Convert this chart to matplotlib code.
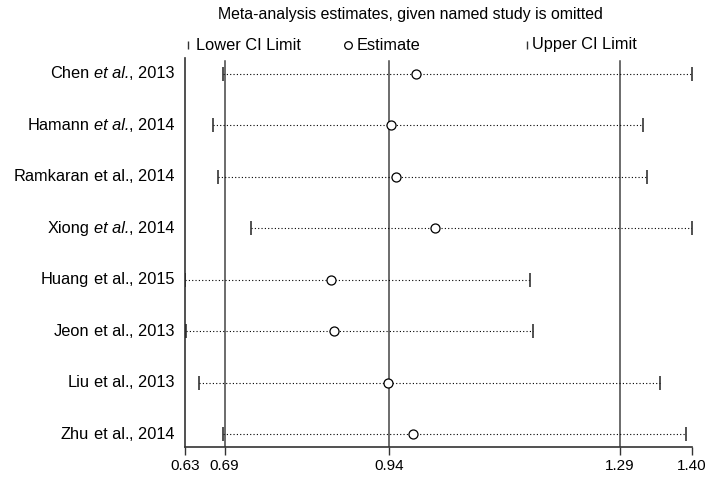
import matplotlib
matplotlib.use("Agg")
import matplotlib.pyplot as plt
from matplotlib.lines import Line2D

plt.rcParams['font.family'] = ['Liberation Sans', 'DejaVu Sans']

authors = ["Chen", "Hamann", "Ramkaran", "Xiong", "Huang", "Jeon", "Liu", "Zhu"]
etal_italic = [True, True, False, True, False, False, False, False]
years = ["2013", "2014", "2014", "2014", "2015", "2013", "2013", "2014"]
lower = [0.688, 0.673, 0.680, 0.730, 0.630, 0.631, 0.651, 0.688]
estimate = [0.981, 0.943, 0.950, 1.010, 0.852, 0.856, 0.938, 0.976]
upper = [1.400, 1.326, 1.332, 1.400, 1.154, 1.159, 1.351, 1.391]

ref_lines = [0.69, 0.94, 1.29]
xticks = [0.63, 0.69, 0.94, 1.29, 1.40]
xtick_labels = ["0.63", "0.69", "0.94", "1.29", "1.40"]

fs = 11.8

fig = plt.figure(figsize=(7.18, 4.8), dpi=100)
ax = fig.add_axes([185/718, 1-447/480, (692-185)/718, (447-58)/480])

ypos = list(range(1, len(authors)+1))

for x in ref_lines:
    ax.axvline(x, ymin=0, ymax=0.992, color='#444444', lw=1.1, zorder=1)

for y, lo, est, up in zip(ypos, lower, estimate, upper):
    ax.plot([lo, up], [y, y], color='black', ls=(0, (1, 2)), lw=0.8, zorder=2)
    ax.plot([lo, up], [y, y], ls='none', marker='|', ms=10, mew=1.1, color='#222222', zorder=3)
    ax.plot(est, y, 'o', ms=6.5, mfc='white', mec='black', mew=0.9, zorder=4)

ax.set_xlim(0.63, 1.40)
ax.set_ylim(8.25, 0.69)
ax.set_yticks([])
ax.set_xticks(xticks)
ax.set_xticklabels(xtick_labels, fontsize=11)
ax.tick_params(axis='x', direction='out', length=6, width=1, color='#333333', pad=3)
for s in ['top', 'right']:
    ax.spines[s].set_visible(False)
for s in ['left', 'bottom']:
    ax.spines[s].set_color('#333333')
    ax.spines[s].set_linewidth(1.2)

# study labels, built right to left so "et al." can be italic
trans = ax.get_yaxis_transform()
for y, name, ital, yr in zip(ypos, authors, etal_italic, years):
    t_year = ax.annotate(", " + yr, xy=(0, y), xycoords=trans, xytext=(-7.5, 0),
                         textcoords='offset points', ha='right', va='center', fontsize=fs)
    t_etal = ax.annotate("et al.", xy=(0, 0), xycoords=t_year, ha='right', va='bottom',
                         fontsize=fs, style='italic' if ital else 'normal')
    ax.annotate(name, xy=(0, 0), xycoords=t_etal, xytext=(-3.2, 0),
                textcoords='offset points', ha='right', va='bottom', fontsize=fs)

# legend / title strip above the plot
fig.text(410/718, 1-15/480, "Meta-analysis estimates, given named study is omitted",
         ha='center', va='center', fontsize=11.4)
ly = 1-45/480
fig.add_artist(Line2D([188/718], [ly], marker='|', ms=6, color='#333333', transform=fig.transFigure))
fig.text(196/718, ly, "Lower CI Limit", ha='left', va='center', fontsize=fs)
fig.add_artist(Line2D([348/718], [ly], marker='o', ms=5.5, mfc='white', mec='black', mew=0.9,
                      transform=fig.transFigure))
fig.text(357/718, ly, "Estimate", ha='left', va='center', fontsize=fs)
fig.add_artist(Line2D([527/718], [ly], marker='|', ms=6, color='#333333', transform=fig.transFigure))
fig.text(532/718, ly, "Upper CI Limit", ha='left', va='center', fontsize=fs)

fig.savefig("out.png", dpi=100)
